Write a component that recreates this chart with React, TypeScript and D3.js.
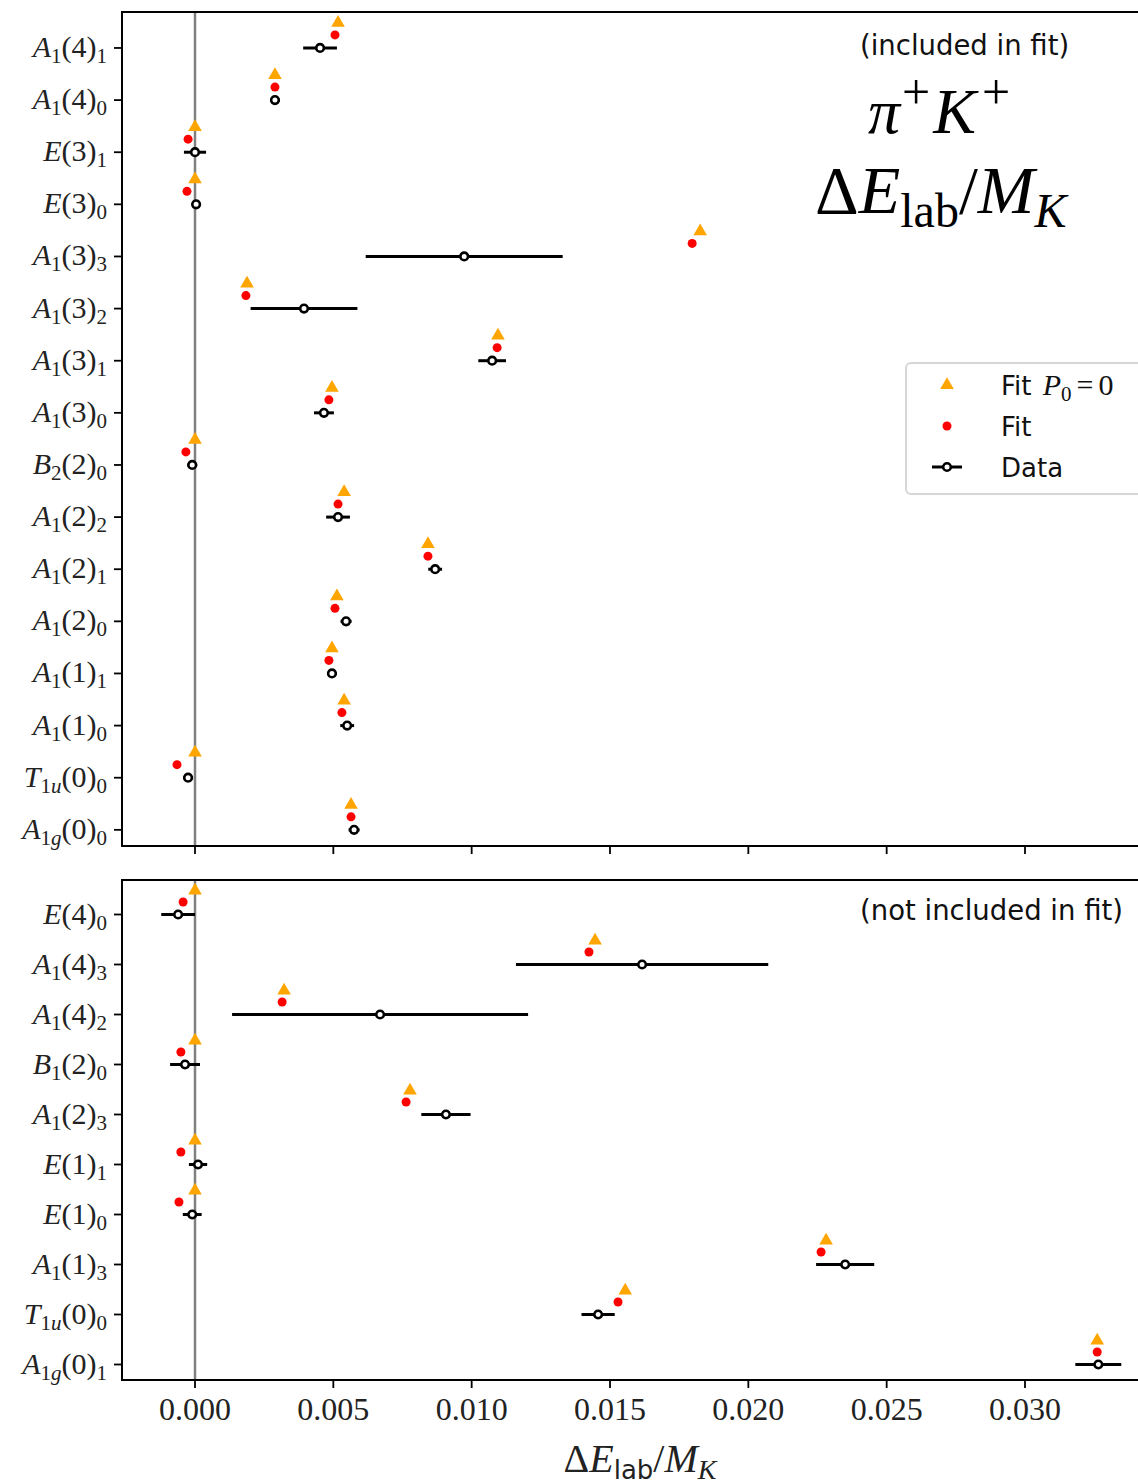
import React from 'react';
import * as d3 from 'd3';

// top panel (included in fit), listed top to bottom
const topLabels = [
  'A_1(4)_1', 'A_1(4)_0', 'E(3)_1', 'E(3)_0', 'A_1(3)_3', 'A_1(3)_2', 'A_1(3)_1', 'A_1(3)_0',
  'B_2(2)_0', 'A_1(2)_2', 'A_1(2)_1', 'A_1(2)_0', 'A_1(1)_1', 'A_1(1)_0', 'T_1u(0)_0', 'A_1g(0)_0',
];
const topFitP0 = [0.00517, 0.00289, 0.0, 0.0, 0.01826, 0.00188, 0.01095, 0.00495, 0.0, 0.00539, 0.00842, 0.00513, 0.00495, 0.00539, 0.0, 0.00564];
const topFit = [0.00506, 0.00289, -0.00025, -0.00029, 0.01797, 0.00184, 0.01092, 0.00484, -0.00033, 0.00517, 0.00842, 0.00506, 0.00484, 0.00531, -0.00065, 0.00564];
const topData = [0.00452, 0.00289, 0.0, 0.00004, 0.00973, 0.00394, 0.01074, 0.00466, -0.0001, 0.00517, 0.00868, 0.00546, 0.00495, 0.0055, -0.00025, 0.00575];
const topErr = [0.00061, 0.00018, 0.0004, 0.00015, 0.00356, 0.00193, 0.0005, 0.00036, 0.00018, 0.00043, 0.00025, 0.0002, 0.00018, 0.00025, 0.00018, 0.0002];

// bottom panel (not included in fit)
const bottomLabels = [
  'E(4)_0', 'A_1(4)_3', 'A_1(4)_2', 'B_1(2)_0', 'A_1(2)_3', 'E(1)_1', 'E(1)_0', 'A_1(1)_3', 'T_1u(0)_0', 'A_1g(0)_1',
];
const bottomFitP0 = [0.0, 0.01446, 0.00322, 0.0, 0.00777, 0.0, 0.0, 0.02281, 0.01555, 0.03261];
const bottomFit = [-0.00043, 0.01424, 0.00315, -0.00051, 0.00763, -0.00051, -0.00058, 0.02263, 0.01529, 0.03261];
const bottomData = [-0.00061, 0.01616, 0.00669, -0.00036, 0.00907, 0.00011, -0.0001, 0.0235, 0.01457, 0.03265];
const bottomErr = [0.00061, 0.00456, 0.00535, 0.00054, 0.00089, 0.00033, 0.00034, 0.00105, 0.0006, 0.00083];

const xTicks = [0.0, 0.005, 0.01, 0.015, 0.02, 0.025, 0.03];

const W = 1138;
const H = 1484;
const left = 122;
const frameRight = 1170;
const serif = '"Liberation Serif", "DejaVu Serif", serif';
const sans = '"DejaVu Sans", "Open Sans", sans-serif';
const ORANGE = '#ffa500';
const RED = '#ff0000';

const x = d3.scaleLinear().domain([0, 0.03]).range([195, 1025]);

function Label({ name, y }: { name: string; y: number }) {
  const m = name.match(/^([A-Z])(?:_(\d)([a-z]?))?\((\d)\)_(\d)$/);
  if (!m) return null;
  const [, base, sub, subL, arg, idx] = m;
  const fs = 30;
  const ss = 21;
  const dy = 6;
  return (
    <text x={107} y={y + 9} textAnchor="end" fontFamily={serif} fontSize={fs} fill="#222">
      <tspan fontStyle="italic">{base}</tspan>
      {sub ? (
        <>
          <tspan fontSize={ss} dy={dy}>{sub}</tspan>
          {subL ? <tspan fontSize={ss} fontStyle="italic">{subL}</tspan> : null}
          <tspan dy={-dy}>({arg})</tspan>
        </>
      ) : (
        <tspan>({arg})</tspan>
      )}
      <tspan fontSize={ss} dy={dy}>{idx}</tspan>
    </text>
  );
}

function Triangle({ cx, cy }: { cx: number; cy: number }) {
  const p = d3.symbol(d3.symbolTriangle, 80)();
  return <path d={p ?? ''} transform={`translate(${cx},${cy + 1})`} fill={ORANGE} />;
}

function DataMark({ cx, cy, err, scale }: { cx: number; cy: number; err: number; scale: d3.ScaleLinear<number, number> }) {
  return (
    <g>
      <line x1={scale(-err) - scale(0) + cx} x2={scale(err) - scale(0) + cx} y1={cy} y2={cy} stroke="#000" strokeWidth={3} />
      <circle cx={cx} cy={cy} r={3.8} fill="#fff" stroke="#000" strokeWidth={2.6} />
    </g>
  );
}

function Panel({
  top, bottom, labels, fitP0, fit, data, err, showTickLabels, note, noteX, noteY,
}: {
  top: number; bottom: number; labels: string[]; fitP0: number[]; fit: number[]; data: number[]; err: number[];
  showTickLabels: boolean; note: string; noteX: number; noteY: number;
}) {
  const n = labels.length;
  const y = d3.scaleLinear().domain([-0.31, n - 0.31]).range([bottom, top]);
  const rows = labels.map((l, i) => ({ l, pos: n - 1 - i, i }));
  return (
    <g>
      <clipPath id={`clip${top}`}>
        <rect x={left} y={top} width={frameRight - left} height={bottom - top} />
      </clipPath>
      <line x1={x(0)} x2={x(0)} y1={top} y2={bottom} stroke="#808080" strokeWidth={2.5} />
      <g clipPath={`url(#clip${top})`}>
        {rows.map(({ pos, i }) => (
          <g key={i}>
            <Triangle cx={x(fitP0[i])} cy={y(pos + 0.5)} />
            <circle cx={x(fit[i])} cy={y(pos + 0.25)} r={4.5} fill={RED} />
            <DataMark cx={x(data[i])} cy={y(pos)} err={err[i]} scale={x} />
          </g>
        ))}
      </g>
      <rect x={left} y={top} width={frameRight - left} height={bottom - top} fill="none" stroke="#000" strokeWidth={2} />
      {rows.map(({ l, pos, i }) => (
        <g key={`t${i}`}>
          <line x1={left - 8} x2={left} y1={y(pos)} y2={y(pos)} stroke="#000" strokeWidth={1.8} />
          <Label name={l} y={y(pos)} />
        </g>
      ))}
      {xTicks.map((t) => (
        <g key={t}>
          <line x1={x(t)} x2={x(t)} y1={bottom} y2={bottom + 8} stroke="#000" strokeWidth={1.8} />
          {showTickLabels ? (
            <text x={x(t)} y={bottom + 40} textAnchor="middle" fontFamily={serif} fontSize={32} fill="#222">
              {d3.format('.3f')(t)}
            </text>
          ) : null}
        </g>
      ))}
      <text x={noteX} y={noteY} fontFamily={sans} fontSize={27.5} fill="#111">{note}</text>
    </g>
  );
}

function Legend() {
  const lx = 906;
  const ly = 363;
  return (
    <g>
      <rect x={lx} y={ly} width={260} height={131} rx={5} fill="#fff" fillOpacity={0.8} stroke="#d6d6d6" strokeWidth={2} />
      <Triangle cx={947} cy={384} />
      <circle cx={947} cy={426} r={4.5} fill={RED} />
      <line x1={932} x2={962} y1={467} y2={467} stroke="#000" strokeWidth={3} />
      <circle cx={947} cy={467} r={3.8} fill="#fff" stroke="#000" strokeWidth={2.6} />
      <text x={1001} y={395} fontFamily={sans} fontSize={26} fill="#111">
        Fit{' '}
        <tspan fontFamily={serif} fontStyle="italic" fontSize={30} dx={3}>P</tspan>
        <tspan fontFamily={serif} fontSize={21} dy={6}>0</tspan>
        <tspan fontFamily={serif} fontSize={30} dy={-6} dx={5}>=</tspan>
        <tspan fontFamily={serif} fontSize={30} dx={5}>0</tspan>
      </text>
      <text x={1001} y={436} fontFamily={sans} fontSize={26} fill="#111">Fit</text>
      <text x={1001} y={477} fontFamily={sans} fontSize={26} fill="#111">Data</text>
    </g>
  );
}

export default function App() {
  return (
    <svg width={W} height={H} style={{ position: 'absolute', left: 0, top: 0, display: 'block', background: '#fff' }}>
      <rect width={W} height={H} fill="#fff" />
      <Panel top={12} bottom={846} labels={topLabels} fitP0={topFitP0} fit={topFit} data={topData} err={topErr}
        showTickLabels={false} note="(included in fit)" noteX={860} noteY={55} />
      <Panel top={880} bottom={1380} labels={bottomLabels} fitP0={bottomFitP0} fit={bottomFit} data={bottomData} err={bottomErr}
        showTickLabels={true} note="(not included in fit)" noteX={860} noteY={920} />
      <Legend />
      <text x={868} y={133} fontFamily={serif} fontSize={64} fill="#000">
        <tspan fontStyle="italic">π</tspan>
        <tspan fontSize={50} dy={-24} dx={2}>+</tspan>
        <tspan fontStyle="italic" dy={24} dx={3}>K</tspan>
        <tspan fontSize={50} dy={-24} dx={6}>+</tspan>
      </text>
      <text x={815} y={213} fontFamily={serif} fontSize={68} fill="#000">
        <tspan>Δ</tspan>
        <tspan fontStyle="italic">E</tspan>
        <tspan fontSize={48} dy={14}>lab</tspan>
        <tspan dy={-14}>/</tspan>
        <tspan fontStyle="italic">M</tspan>
        <tspan fontStyle="italic" fontSize={48} dy={14}>K</tspan>
      </text>
      <text x={640} y={1472} textAnchor="middle" fontFamily={serif} fontSize={40} fill="#222">
        <tspan>Δ</tspan>
        <tspan fontStyle="italic">E</tspan>
        <tspan fontFamily={sans} fontSize={26} dy={7}>lab</tspan>
        <tspan dy={-7}>/</tspan>
        <tspan fontStyle="italic">M</tspan>
        <tspan fontStyle="italic" fontSize={28} dy={7}>K</tspan>
      </text>
    </svg>
  );
}
